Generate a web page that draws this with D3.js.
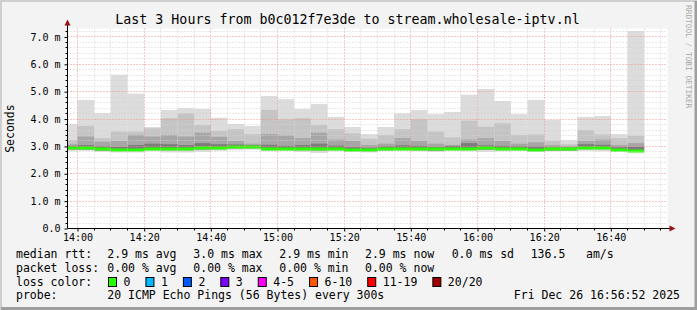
<!DOCTYPE html>
<html lang="en">
<head>
  <meta charset="UTF-8">
  <script src="https://cdn.jsdelivr.net/npm/d3@7"></script>
  <title>Last 3 Hours</title>
  <style>
    html, body { margin: 0; padding: 0; background: #f3f3f3; }
    svg { display: block; }
    text { font-family: 'DejaVu Sans Mono', monospace; fill: #000; }
  </style>
</head>
<body>
  <svg></svg>
<script>
const width = 697;
const height = 310;
const plot = { left: 67.5, right: 667.5, top: 28.5, bottom: 228.5 };

// 5 minute bins (start times)
const binStarts = ['13:55', '14:00', '14:05', '14:10', '14:15', '14:20', '14:25', '14:30', '14:35', '14:40',
                   '14:45', '14:50', '14:55', '15:00', '15:05', '15:10', '15:15', '15:20', '15:25', '15:30',
                   '15:35', '15:40', '15:45', '15:50', '15:55', '16:00', '16:05', '16:10', '16:15', '16:20',
                   '16:25', '16:30', '16:35', '16:40', '16:45'];
// rtt in ms
const rttMax = [3.82, 4.70, 4.22, 5.62, 4.93, 3.71, 4.33, 4.40, 4.37, 4.05, 3.82, 3.75, 4.84, 4.73, 4.37, 4.55, 4.08, 3.71, 3.45, 3.71,
                4.21, 4.33, 4.18, 4.26, 4.89, 5.10, 4.66, 4.18, 4.70, 3.97, 3.23, 4.08, 4.11, 3.45, 7.22];
const rttUp2 = [3.23, 3.75, 3.30, 3.54, 3.54, 3.66, 4.03, 4.21, 3.78, 3.56, 3.63, 3.45, 4.33, 3.99, 4.03, 3.78, 3.63, 3.48, 3.28, 3.42,
                3.63, 3.99, 3.54, 3.33, 3.94, 3.72, 3.85, 3.42, 3.44, 3.20, 3.08, 3.60, 3.44, 3.30, 3.39];
const rttUp3 = [3.08, 3.36, 3.17, 3.20, 3.42, 3.36, 3.42, 3.36, 3.50, 3.35, 3.20, 3.10, 3.45, 3.40, 3.30, 3.50, 3.25, 3.20, 3.05, 3.10,
                3.30, 3.20, 3.10, 3.05, 3.25, 3.30, 3.20, 3.10, 3.15, 3.05, 3.00, 3.20, 3.25, 3.05, 3.12];
const rttUp4 = [3.02, 3.05, 3.00, 2.98, 3.05, 3.10, 3.08, 3.05, 3.12, 3.08, 3.07, 3.04, 3.06, 3.02, 3.05, 3.10, 3.03, 2.97, 2.95, 3.00,
                3.04, 3.02, 2.98, 3.02, 3.12, 3.04, 3.02, 3.00, 2.99, 2.96, 2.95, 3.08, 3.06, 2.97, 2.98];
const rttMedian = [2.94, 2.93, 2.89, 2.87, 2.87, 2.92, 2.92, 2.91, 2.93, 2.95, 2.99, 2.98, 2.92, 2.92, 2.91, 2.92, 2.92, 2.87, 2.87, 2.91,
                   2.92, 2.92, 2.89, 2.92, 2.92, 2.93, 2.92, 2.91, 2.87, 2.89, 2.89, 2.95, 2.95, 2.87, 2.85];
const rttLow = [2.88, 2.88, 2.85, 2.83, 2.83, 2.87, 2.86, 2.86, 2.88, 2.90, 2.93, 2.93, 2.87, 2.88, 2.86, 2.85, 2.87, 2.83, 2.82, 2.86,
                2.87, 2.86, 2.84, 2.87, 2.87, 2.87, 2.87, 2.87, 2.83, 2.85, 2.85, 2.90, 2.90, 2.83, 2.81];
const rttMin = [2.82, 2.84, 2.80, 2.78, 2.78, 2.82, 2.78, 2.78, 2.80, 2.84, 2.86, 2.88, 2.82, 2.84, 2.80, 2.76, 2.82, 2.80, 2.78, 2.83,
                2.84, 2.82, 2.80, 2.84, 2.82, 2.80, 2.82, 2.84, 2.80, 2.82, 2.84, 2.84, 2.82, 2.80, 2.78];

const timeLabels = ['14:00', '14:20', '14:40', '15:00', '15:20', '15:40', '16:00', '16:20', '16:40'];
const yTickValues = [0, 1, 2, 3, 4, 5, 6, 7];
const yTickLabels = ['0.0', '1.0 m', '2.0 m', '3.0 m', '4.0 m', '5.0 m', '6.0 m', '7.0 m'];

const rttStats = ['2.9 ms avg', '3.0 ms max', '2.9 ms min', '2.9 ms now', '0.0 ms sd', '136.5', 'am/s'];
const lossStats = ['0.00 % avg', '0.00 % max', '0.00 % min', '0.00 % now'];
const lossLabels = ['0', '1', '2', '3', '4-5', '6-10', '11-19', '20/20'];
const lossColors = ['#26ff00', '#00b8ff', '#0059ff', '#7e00ff', '#ff00ff', '#ff5500', '#ff0000', '#a10000'];

const parseTime = d3.timeParse('%H:%M');
const statCols = [107.3, 193.3, 279.3, 365, 451.7, 530.7, 586];

const svg = d3.select('svg').attr('width', width).attr('height', height);

// frame
svg.append('rect').attr('width', width).attr('height', height).attr('fill', '#f3f3f3');
svg.append('path').attr('d', `M1,${height} V1 H${width}`).attr('stroke', '#cfcfcf').attr('stroke-width', 2).attr('fill', 'none');
svg.append('path').attr('d', `M1,${height - 1.5} H${width - 1} V1`).attr('stroke', '#9e9e9e').attr('stroke-width', 3).attr('fill', 'none');

const xScale = d3.scaleTime().domain([parseTime('13:57'), parseTime('16:57')]).range([plot.left, plot.right]);
const yScale = d3.scaleLinear().domain([0, 7.31]).range([plot.bottom, plot.top]);

svg.append('rect')
  .attr('x', plot.left).attr('y', plot.top)
  .attr('width', plot.right - plot.left).attr('height', plot.bottom - plot.top)
  .attr('fill', '#fff');

svg.append('clipPath').attr('id', 'clip')
  .append('rect')
  .attr('x', plot.left + 0.5).attr('y', plot.top)
  .attr('width', plot.right - plot.left).attr('height', plot.bottom - plot.top);

const barsLayer = svg.append('g').attr('clip-path', 'url(#clip)');
const gridLayer = svg.append('g');
const axisLayer = svg.append('g');

const series = binStarts.map((s, i) => ({
  start: parseTime(s),
  end: d3.timeMinute.offset(parseTime(s), 5),
  max: rttMax[i], up2: rttUp2[i], up3: rttUp3[i], up4: rttUp4[i],
  median: rttMedian[i], low: rttLow[i], min: rttMin[i]
}));

// smoke layers, outer to inner
const smoke = [
  { lo: d => d.min, hi: d => d.max, fill: '#dcdcdc' },
  { lo: d => d.low, hi: d => d.up2, fill: '#c4c4c4' },
  { lo: d => d.low, hi: d => d.up3, fill: '#a6a6a6' },
  { lo: d => d.median - 0.03, hi: d => d.up4, fill: '#7c7c7c' }
];

smoke.forEach(layer => {
  barsLayer.append('g').selectAll('rect')
    .data(series)
    .enter()
    .append('rect')
    .attr('x', d => xScale(d.start))
    .attr('width', d => xScale(d.end) - xScale(d.start))
    .attr('y', d => yScale(layer.hi(d)))
    .attr('height', d => yScale(layer.lo(d)) - yScale(layer.hi(d)))
    .attr('fill', layer.fill);
});

// median, coloured by loss (all 0 here)
barsLayer.append('g').selectAll('rect')
  .data(series)
  .enter()
  .append('rect')
  .attr('x', d => xScale(d.start))
  .attr('width', d => xScale(d.end) - xScale(d.start))
  .attr('y', d => Math.round(yScale(d.median)) - 1.5)
  .attr('height', 3)
  .attr('fill', lossColors[0]);

// grid
const snap = v => Math.round(v - 0.5) + 0.5;
const minorY = d3.range(0.2, 7.31, 0.2).filter(v => Math.abs(v - Math.round(v)) > 1e-6);
const majorY = yTickValues.slice(1);
const minorX = d3.timeMinute.every(5).range(xScale.domain()[0], xScale.domain()[1])
  .filter(t => t.getMinutes() % 20 !== 0);
const majorX = timeLabels.map(parseTime);

gridLayer.selectAll('.minor-y').data(minorY).enter().append('line')
  .attr('x1', plot.left).attr('x2', plot.right)
  .attr('y1', d => snap(yScale(d))).attr('y2', d => snap(yScale(d)))
  .attr('stroke', '#d2d2d2').attr('stroke-dasharray', '1,2');
gridLayer.selectAll('.minor-x').data(minorX).enter().append('line')
  .attr('y1', plot.top).attr('y2', plot.bottom)
  .attr('x1', d => snap(xScale(d))).attr('x2', d => snap(xScale(d)))
  .attr('stroke', '#d2d2d2').attr('stroke-dasharray', '1,2');
gridLayer.selectAll('.major-y').data(majorY).enter().append('line')
  .attr('x1', plot.left).attr('x2', plot.right)
  .attr('y1', d => snap(yScale(d))).attr('y2', d => snap(yScale(d)))
  .attr('stroke', '#f09090').attr('stroke-dasharray', '1,2');
gridLayer.selectAll('.major-x').data(majorX).enter().append('line')
  .attr('y1', plot.top).attr('y2', plot.bottom)
  .attr('x1', d => snap(xScale(d))).attr('x2', d => snap(xScale(d)))
  .attr('stroke', '#f09090').attr('stroke-dasharray', '1,2');

// axes
const yAxis = d3.axisLeft(yScale)
  .tickValues(yTickValues)
  .tickFormat((d, i) => yTickLabels[i])
  .tickSize(3).tickPadding(4);
const xAxis = d3.axisBottom(xScale)
  .tickValues(majorX)
  .tickFormat((d, i) => timeLabels[i])
  .tickSize(3).tickPadding(2.5);

const yAxisLayer = axisLayer.append('g').attr('transform', `translate(${plot.left},0)`).call(yAxis);
const xAxisLayer = axisLayer.append('g').attr('transform', `translate(0,${plot.bottom})`).call(xAxis);
[yAxisLayer, xAxisLayer].forEach(g => {
  g.select('.domain').remove();
  g.selectAll('text').style('font-family', "'DejaVu Sans Mono', monospace").style('font-size', '10px').attr('fill', '#000');
  g.selectAll('.tick line').attr('stroke', '#000');
});

// minor ticks
axisLayer.selectAll('.mty').data(minorY).enter().append('line')
  .attr('x1', plot.left - 2).attr('x2', plot.left)
  .attr('y1', d => snap(yScale(d))).attr('y2', d => snap(yScale(d)))
  .attr('stroke', '#000');
axisLayer.selectAll('.mtx').data(minorX).enter().append('line')
  .attr('y1', plot.bottom).attr('y2', plot.bottom + 2)
  .attr('x1', d => snap(xScale(d))).attr('x2', d => snap(xScale(d)))
  .attr('stroke', '#000');

axisLayer.append('line').attr('x1', plot.left).attr('x2', plot.left)
  .attr('y1', plot.bottom).attr('y2', plot.top - 4).attr('stroke', '#000');
axisLayer.append('line').attr('x1', plot.left).attr('x2', plot.right + 4)
  .attr('y1', plot.bottom).attr('y2', plot.bottom).attr('stroke', '#000');
axisLayer.append('path')
  .attr('d', `M${plot.left - 3},${plot.top - 3} L${plot.left},${plot.top - 9} L${plot.left + 3},${plot.top - 3} Z`)
  .attr('fill', '#9a1010');
axisLayer.append('path')
  .attr('d', `M${plot.right + 2},${plot.bottom - 3} L${plot.right + 8},${plot.bottom} L${plot.right + 2},${plot.bottom + 3} Z`)
  .attr('fill', '#9a1010');

// title and labels
svg.append('text').attr('x', 347.5).attr('y', 24).attr('text-anchor', 'middle')
  .style('font-size', '13.3px')
  .text('Last 3 Hours from b0c012f7e3de to stream.wholesale-iptv.nl');

svg.append('text').attr('transform', `translate(14,${yScale(3.65)}) rotate(-90)`)
  .attr('text-anchor', 'middle').style('font-size', '11.5px')
  .text('Seconds');

svg.append('text').attr('transform', 'translate(686,5) rotate(90)')
  .style('font-size', '7.8px').style('fill', '#a8a8a8')
  .text('RRDTOOL / TOBI OETIKER');

// legend
const legend = svg.append('g').style('font-size', '11.5px');
const row = (label, y) => legend.append('text').attr('x', 16).attr('y', y).text(label);

row('median rtt:', 258);
rttStats.forEach((s, i) => legend.append('text').attr('x', statCols[i]).attr('y', 258).text(s));
row('packet loss:', 271.5);
lossStats.forEach((s, i) => legend.append('text').attr('x', statCols[i]).attr('y', 271.5).text(s));
row('loss color:', 285.5);
let bx = 108.5;
lossLabels.forEach((l, i) => {
  legend.append('rect').attr('x', bx).attr('y', 277.5).attr('width', 8).attr('height', 9)
    .attr('fill', lossColors[i]).attr('stroke', '#000');
  const t = legend.append('text').attr('x', bx + 15).attr('y', 285.5).text(l);
  bx = bx + 15 + t.node().getComputedTextLength() + 15.5;
});
row('probe:', 299);
legend.append('text').attr('x', statCols[0]).attr('y', 299).text('20 ICMP Echo Pings (56 Bytes) every 300s');
legend.append('text').attr('x', 680).attr('y', 299).attr('text-anchor', 'end').text('Fri Dec 26 16:56:52 2025');
</script>
</body>
</html>
